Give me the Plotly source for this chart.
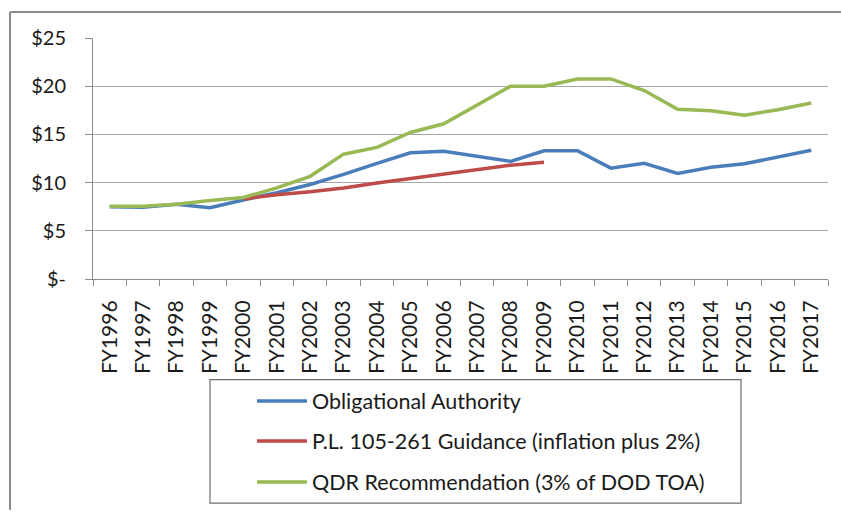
import plotly.graph_objects as go

categories = ["FY1996", "FY1997", "FY1998", "FY1999", "FY2000", "FY2001", "FY2002",
              "FY2003", "FY2004", "FY2005", "FY2006", "FY2007", "FY2008", "FY2009",
              "FY2010", "FY2011", "FY2012", "FY2013", "FY2014", "FY2015", "FY2016", "FY2017"]

obligational_authority = [7.5, 7.45, 7.75, 7.4, 8.2, 8.95, 9.8, 10.85, 12.0, 13.1, 13.25,
                          12.75, 12.2, 13.3, 13.3, 11.5, 12.0, 10.95, 11.6, 11.95, 12.65, 13.35]

pl_guidance = [None, None, None, None, 8.3, 8.75, 9.05, 9.45, 9.95, 10.4, 10.85,
               11.35, 11.8, 12.1, None, None, None, None, None, None, None, None]

qdr_recommendation = [7.55, 7.55, 7.75, 8.15, 8.45, 9.45, 10.65, 12.95, 13.65, 15.2, 16.1,
                      18.0, 20.0, 20.0, 20.75, 20.75, 19.55, 17.6, 17.45, 17.0, 17.55, 18.25]

series_names = ["Obligational Authority",
                "P.L. 105-261 Guidance (inflation plus 2%)",
                "QDR Recommendation (3% of DOD TOA)"]
series_colors = ["#4A7EBB", "#BE4B48", "#98B954"]

y_tick_vals = [0, 5, 10, 15, 20, 25]
y_tick_text = ["$-", "$5", "$10", "$15", "$20", "$25"]

FONT = "Lato"
TEXT = "#1a1a1a"

fig = go.Figure()
for i, (name, vals) in enumerate(zip(series_names,
                                     [obligational_authority, pl_guidance, qdr_recommendation])):
    fig.add_trace(go.Scatter(
        x=categories, y=vals, mode="lines", name=name,
        line=dict(color=series_colors[i], width=3.5),
        legend="legend" if i == 0 else f"legend{i+1}",
        hoverinfo="skip",
    ))

W, H = 841, 512
# plot area in page px: x 93..828, y 38..280
PL, PR, PT, PB = 93, 828, 38, 280
L, T = PL, PT
R, B = W - PR, H - PB
pw, ph = W - L - R, H - T - B

def px_x(x):
    return (x - L) / pw

def px_y(y):
    return (PB - y) / ph

legend_common = dict(
    font=dict(family=FONT, size=21.5, color=TEXT),
    bgcolor="rgba(0,0,0,0)", borderwidth=0,
    xanchor="left", yanchor="middle", itemwidth=50,
)
rows = [401, 441, 482]
lx = 252
fig.update_layout(
    legend=dict(x=px_x(lx), y=px_y(rows[0]), **legend_common),
    legend2=dict(x=px_x(lx), y=px_y(rows[1]), **legend_common),
    legend3=dict(x=px_x(lx), y=px_y(rows[2]), **legend_common),
)

fig.update_layout(
    width=W, height=H,
    margin=dict(l=L, r=R, t=T, b=B, pad=0),
    paper_bgcolor="white", plot_bgcolor="white",
    font=dict(family=FONT, size=20, color=TEXT),
    showlegend=True,
    xaxis=dict(
        type="category", range=[-0.5, len(categories) - 0.5],
        tickangle=-90, showgrid=False, showline=True, linecolor="#8C8C8C", linewidth=1,
        ticks="outside", tickson="boundaries", ticklen=6, tickcolor="#8C8C8C",
        ticklabelstandoff=12, tickfont=dict(family=FONT, size=21, color=TEXT),
        fixedrange=True,
    ),
    yaxis=dict(
        range=[0, 25], tickvals=y_tick_vals, ticktext=y_tick_text,
        showgrid=True, gridcolor="#A6A6A6", gridwidth=1,
        showline=True, linecolor="#8C8C8C", linewidth=1,
        ticks="outside", ticklen=7, tickcolor="#8C8C8C",
        ticklabelstandoff=15, tickfont=dict(family=FONT, size=20, color=TEXT),
        zeroline=False, fixedrange=True,
    ),
    shapes=[
        # outer chart border (left and top visible)
        dict(type="line", xref="paper", yref="paper",
             x0=px_x(10), x1=px_x(841), y0=px_y(12), y1=px_y(12),
             line=dict(color="#8C8C8C", width=2)),
        dict(type="line", xref="paper", yref="paper",
             x0=px_x(10), x1=px_x(10), y0=px_y(12), y1=px_y(512),
             line=dict(color="#8C8C8C", width=2)),
        # legend box
        dict(type="rect", xref="paper", yref="paper",
             x0=px_x(210), x1=px_x(741), y0=px_y(381), y1=px_y(505),
             line=dict(color="#6E6E6E", width=1.2), fillcolor="rgba(0,0,0,0)"),
    ],
)

fig.write_html(
    "out.html",
    config={"displayModeBar": False},
    post_script="document.body.style.margin='0';"
                "document.body.style.overflow='hidden';"
                "document.documentElement.style.overflow='hidden';",
)
